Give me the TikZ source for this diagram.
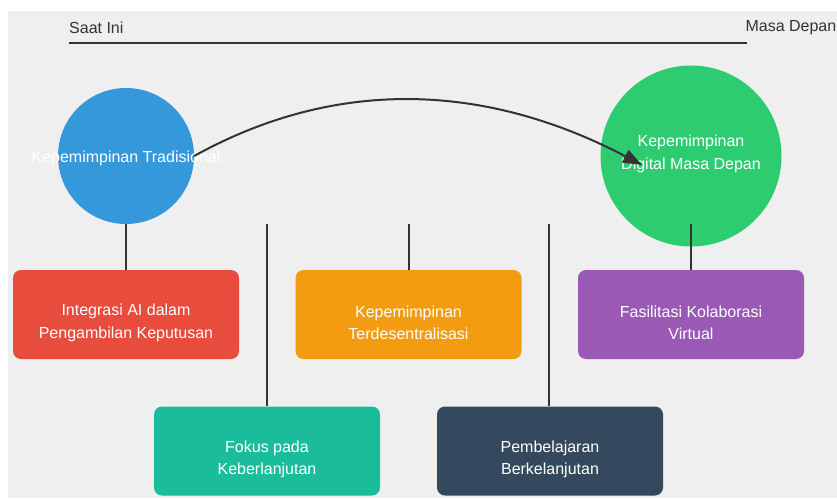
\documentclass[tikz,border=0pt]{standalone}
\usepackage{fontspec}
\setmainfont{Liberation Sans}
\usetikzlibrary{arrows.meta}
\definecolor{canvas}{HTML}{EFEFEF}
\definecolor{ink}{HTML}{333333}
\definecolor{cblue}{HTML}{3498DB}
\definecolor{cgreen}{HTML}{2ECC71}
\definecolor{cred}{HTML}{E74C3C}
\definecolor{corange}{HTML}{F39C12}
\definecolor{cpurple}{HTML}{9B59B6}
\definecolor{cteal}{HTML}{1ABC9C}
\definecolor{cnavy}{HTML}{34495E}
\begin{document}
\begin{tikzpicture}[x=1pt,y=-1pt,
  font=\fontsize{16}{22.5}\selectfont,
  card/.style={rectangle, rounded corners=8pt, minimum width=226pt,
    minimum height=89pt, inner sep=0pt},
  disc/.style={circle, inner sep=0pt},
  cardtext/.style={text=white, align=center, inner sep=0pt},
  tick/.style={text=ink, inner sep=0pt},
  conn/.style={draw=ink, line width=2pt}]
\useasboundingbox (0,0) rectangle (837,498);
\fill[canvas] (8,11) rectangle (837,498);

% timeline
\node[tick, anchor=west] (now) at (69,27.5) {Saat Ini};
\node[tick, anchor=east] (future) at (836.5,27.5) {Masa Depan};
\coordinate (tl) at (69,43);
\coordinate (tr) at (747,43);
\draw[conn] (tl) -- (tr);

% leadership styles
\node[disc, fill=cblue, minimum size=136pt] (trad) at (126,156) {};
\node[cardtext] (tradtext) at (126,158) {Kepemimpinan Tradisional};
\node[disc, fill=cgreen, minimum size=181pt] (digi) at (691,156) {};
\node[cardtext] (digitext) at (691,154) {Kepemimpinan\\Digital Masa Depan};

% cards
\node[card, fill=cred] (ai) at (126,314.5) {};
\node[cardtext] (aitext) at (126,323) {Integrasi AI dalam\\Pengambilan Keputusan};
\node[card, fill=corange] (dec) at (408.5,314.5) {};
\node[cardtext] (dectext) at (408.5,323) {Kepemimpinan\\Terdesentralisasi};
\node[card, fill=cpurple] (col) at (691,314.5) {};
\node[cardtext] (coltext) at (691,323) {Fasilitasi Kolaborasi\\Virtual};
\node[card, fill=cteal] (sus) at (267,451) {};
\node[cardtext] (sustext) at (267,459.5) {Fokus pada\\Keberlanjutan};
\node[card, fill=cnavy] (learn) at (550,451) {};
\node[cardtext] (learntext) at (550,459.5) {Pembelajaran\\Berkelanjutan};

% connectors
\draw[conn] (trad.south) -- (ai.north);
\coordinate (s2) at (267,224);
\draw[conn] (s2) -- (sus.north);
\coordinate (s3) at (408.5,224);
\draw[conn] (s3) -- (dec.north);
\coordinate (s4) at (549,224);
\draw[conn] (s4) -- (learn.north -| s4);
\coordinate (s5) at (691,224);
\draw[conn] (s5) -- (col.north);

% transition arrow
\coordinate (tip) at (642,165);
\draw[conn, -{Triangle[length=19pt,width=14pt]}]
  (trad.east) .. controls (333,79) and (482,81) .. (tip);
\end{tikzpicture}
\end{document}
